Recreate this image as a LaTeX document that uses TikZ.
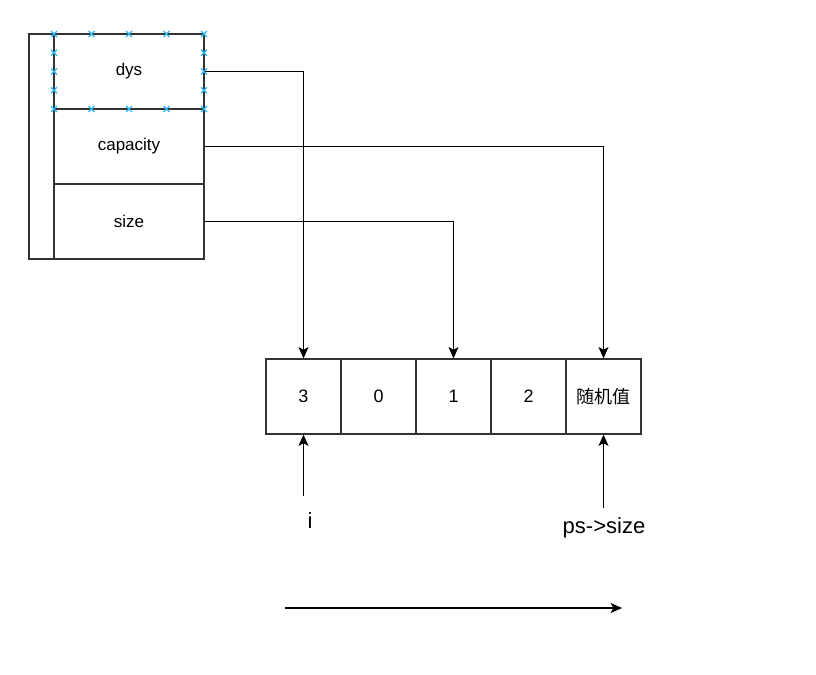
\documentclass[tikz,border=0pt]{standalone}
\usepackage{fontspec}
\setmainfont{Liberation Sans}
\newfontfamily\cjk{Noto Sans CJK SC}
\usetikzlibrary{arrows.meta}
\definecolor{linegray}{HTML}{333333}
\definecolor{handleblue}{HTML}{29B6F2}
\begin{document}
\begin{tikzpicture}[x=0.75pt,y=-0.75pt,
  scell/.style={draw=linegray, line width=0.9pt, minimum width=112.5pt, minimum height=56.25pt, inner sep=0pt, font=\fontsize{12.75pt}{15pt}\selectfont},
  acell/.style={draw=linegray, line width=0.9pt, minimum width=56.25pt, minimum height=56.25pt, inner sep=0pt, font=\fontsize{13.5pt}{16pt}\selectfont},
  biglabel/.style={inner sep=0pt, font=\fontsize{16.5pt}{19pt}\selectfont},
  arr/.style={draw=black, line width=0.8pt, -{Stealth[length=8.5pt,width=7.5pt,inset=2pt]}},
  handlemark/.style={draw=handleblue, line width=0.9pt}]
\useasboundingbox (0,0) rectangle (816,674);
% struct
\node[draw=linegray, line width=0.9pt, minimum width=131.25pt, minimum height=168.75pt, inner sep=0pt] (outer) at (116.5,146.5) {};
\node[scell] (dys) at (129,71.5) {dys};
\node[scell] (capacity) at (129,146.5) {capacity};
\node[scell] (size) at (129,221.5) {size};
% selection handles
\foreach \x in {54,91.5,129,166.5,204} {
  \foreach \y in {34,109} {
    \draw[handlemark] (\x,\y) +(-3,-3) -- +(3,3) +(-3,3) -- +(3,-3);
  }
}
\foreach \x in {54,204} {
  \foreach \y in {52.75,71.5,90.25} {
    \draw[handlemark] (\x,\y) +(-3,-3) -- +(3,3) +(-3,3) -- +(3,-3);
  }
}
% array
\node[acell] (c3) at (303.5,396.5) {3};
\node[acell] (c0) at (378.5,396.5) {0};
\node[acell] (c1) at (453.5,396.5) {1};
\node[acell] (c2) at (528.5,396.5) {2};
\node[acell] (crand) at (603.5,396.5) {\cjk 随机值};
% connectors from struct
\draw[arr] (dys.east) -| (c3.north);
\draw[arr] (capacity.east) -| (crand.north);
\draw[arr] (size.east) -| (c1.north);
% pointers
\coordinate (istart) at (303.5,496);
\coordinate (psstart) at (603.5,508);
\draw[arr] (istart) -- (c3.south);
\draw[arr] (psstart) -- (crand.south);
\node[biglabel] (ilabel) at (310,521) {i};
\node[biglabel] (pslabel) at (604,528) {ps->size};
% direction arrow
\coordinate (dirstart) at (285,608);
\coordinate (dirend) at (622,608);
\draw[arr] (dirstart) -- (dirend);
\end{tikzpicture}
\end{document}
